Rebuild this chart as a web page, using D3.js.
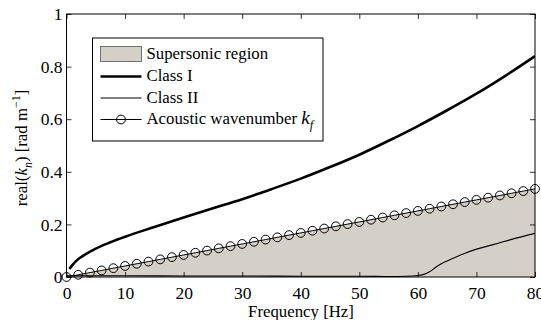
<!DOCTYPE html>
<html>
<head>
<meta charset="utf-8">
<script src="https://cdn.jsdelivr.net/npm/d3@7"></script>
<style>
  body { margin: 0; background: #fff; }
  svg { display: block; font-family: "Liberation Serif", "Times New Roman", serif; }
</style>
</head>
<body>
<svg id="chart" width="541" height="320"></svg>
<script>
// acoustic wavenumber, one marker every 2 Hz
var kf_freq = [0, 2, 4, 6, 8, 10, 12, 14, 16, 18, 20, 22, 24, 26, 28, 30, 32, 34, 36, 38, 40,
               42, 44, 46, 48, 50, 52, 54, 56, 58, 60, 62, 64, 66, 68, 70, 72, 74, 76, 78, 80];
var kf_vals = [0, 0.0084, 0.0168, 0.0251, 0.0335, 0.0419, 0.0503, 0.0586, 0.0670, 0.0754, 0.0838,
               0.0922, 0.1005, 0.1089, 0.1173, 0.1257, 0.1340, 0.1424, 0.1508, 0.1592, 0.1676,
               0.1759, 0.1843, 0.1927, 0.2011, 0.2094, 0.2178, 0.2262, 0.2346, 0.2430, 0.2513,
               0.2597, 0.2681, 0.2765, 0.2848, 0.2932, 0.3016, 0.3100, 0.3184, 0.3267, 0.3351];

// Class I branch
var c1_freq = [0.5, 1, 2, 3, 5, 7.5, 10, 15, 20, 25, 30, 35, 40, 45, 50, 55, 60, 65, 70, 75, 80];
var c1_vals = [0.030, 0.045, 0.068, 0.083, 0.108, 0.132, 0.153, 0.190, 0.226, 0.261, 0.296,
               0.334, 0.374, 0.418, 0.465, 0.518, 0.574, 0.634, 0.697, 0.766, 0.840];

// Class II branch
var c2_freq = [0, 10, 20, 30, 40, 50, 55, 58, 60, 61, 62, 63, 64, 65, 67, 70, 73, 76, 80];
var c2_vals = [0.005, 0.005, 0.004, 0.004, 0.003, 0.003, 0.002, 0.003, 0.006, 0.010, 0.020,
               0.036, 0.050, 0.061, 0.081, 0.106, 0.124, 0.143, 0.166];

var x_ticks = [0, 10, 20, 30, 40, 50, 60, 70, 80];
var y_ticks = [0, 0.2, 0.4, 0.6, 0.8, 1];
var legend_labels = ['Supersonic region', 'Class I', 'Class II', 'Acoustic wavenumber '];

var svg = d3.select('#chart');
var box_l = 66.5, box_r = 535, box_t = 14, box_b = 277;
var fill_col = '#d4d0c8';
var fs = 16.8;  // text size

var x = d3.scaleLinear().domain([0, 80]).range([box_l, box_r]);
var y = d3.scaleLinear().domain([0, 1]).range([box_b, box_t]);

var kf = kf_freq.map(function(f, i) { return [f, kf_vals[i]]; });
var c1 = c1_freq.map(function(f, i) { return [f, c1_vals[i]]; });
var c2 = c2_freq.map(function(f, i) { return [f, c2_vals[i]]; });

svg.append('clipPath').attr('id', 'clip')
    .append('rect').attr('x', box_l).attr('y', box_t)
    .attr('width', box_r - box_l).attr('height', box_b - box_t);

var plot = svg.append('g').attr('clip-path', 'url(#clip)');

// supersonic region (between 0 and k_f)
var area = d3.area()
    .x(function(d) { return x(d[0]); })
    .y0(y(0))
    .y1(function(d) { return y(d[1]); });
plot.append('path').datum(kf).attr('d', area).attr('fill', fill_col);

var line = d3.line()
    .x(function(d) { return x(d[0]); })
    .y(function(d) { return y(d[1]); });
var smooth = d3.line().curve(d3.curveMonotoneX)
    .x(function(d) { return x(d[0]); })
    .y(function(d) { return y(d[1]); });

plot.append('path').datum(c2).attr('d', smooth)
    .attr('fill', 'none').attr('stroke', '#000').attr('stroke-width', 1.1);
plot.append('path').datum(c1).attr('d', smooth)
    .attr('fill', 'none').attr('stroke', '#000').attr('stroke-width', 2.6);
plot.append('path').datum(kf).attr('d', line)
    .attr('fill', 'none').attr('stroke', '#000').attr('stroke-width', 1);

// axes box with inward ticks on all sides
var axes = svg.append('g');
axes.append('g').attr('transform', 'translate(0,' + box_b + ')')
    .call(d3.axisBottom(x).tickValues(x_ticks).tickSizeInner(-5).tickSizeOuter(0).tickPadding(9.5));
axes.append('g').attr('transform', 'translate(0,' + box_t + ')')
    .call(d3.axisTop(x).tickValues(x_ticks).tickSizeInner(-5).tickSizeOuter(0).tickFormat(''));
axes.append('g').attr('transform', 'translate(' + box_l + ',0)')
    .call(d3.axisLeft(y).tickValues(y_ticks).tickSizeInner(-5).tickSizeOuter(0).tickPadding(4)
        .tickFormat(function(d) { return d3.format('~g')(d); }));
axes.append('g').attr('transform', 'translate(' + box_r + ',0)')
    .call(d3.axisRight(y).tickValues(y_ticks).tickSizeInner(-5).tickSizeOuter(0).tickFormat(''));
axes.selectAll('.domain').remove();
axes.selectAll('.tick line').attr('stroke', '#000').attr('stroke-width', 0.8);
axes.selectAll('.tick text').attr('font-family', '"Liberation Serif", serif')
    .attr('font-size', 17.5).attr('fill', '#000');
axes.append('rect').attr('x', box_l).attr('y', box_t)
    .attr('width', box_r - box_l).attr('height', box_b - box_t)
    .attr('fill', 'none').attr('stroke', '#000').attr('stroke-width', 1);

// markers on top (not clipped)
svg.append('g').selectAll('circle').data(kf).enter().append('circle')
    .attr('cx', function(d) { return x(d[0]); })
    .attr('cy', function(d) { return y(d[1]); })
    .attr('r', 4.4)
    .attr('fill', 'none').attr('stroke', '#000').attr('stroke-width', 1);

// axis labels
svg.append('text').attr('x', 301).attr('y', 317)
    .attr('text-anchor', 'middle').attr('font-size', fs).text('Frequency [Hz]');

var ylab = svg.append('text')
    .attr('transform', 'translate(26.5,148) rotate(-90)')
    .attr('text-anchor', 'middle').attr('font-size', fs);
ylab.append('tspan').text('real(');
ylab.append('tspan').attr('font-style', 'italic').text('k');
ylab.append('tspan').attr('font-style', 'italic').attr('font-size', 12).attr('dy', 5).text('n');
ylab.append('tspan').attr('dy', -5).text(') [rad m');
ylab.append('tspan').attr('font-size', 12).attr('dy', -7).text('\u22121');
ylab.append('tspan').attr('dy', 7).text(']');

// legend
var lg = svg.append('g');
lg.append('rect').attr('x', 92.5).attr('y', 38).attr('width', 230.5).attr('height', 103)
    .attr('fill', '#fff').attr('stroke', '#000').attr('stroke-width', 1);
var rows = [54, 76.5, 98, 119.5];
var sx0 = 100.5, sx1 = 141.5;
lg.append('rect').attr('x', sx0).attr('y', rows[0] - 7.5).attr('width', sx1 - sx0).attr('height', 15)
    .attr('fill', fill_col).attr('stroke', '#555').attr('stroke-width', 0.8);
lg.append('line').attr('x1', sx0).attr('x2', sx1).attr('y1', rows[1]).attr('y2', rows[1])
    .attr('stroke', '#000').attr('stroke-width', 2.6);
lg.append('line').attr('x1', sx0).attr('x2', sx1).attr('y1', rows[2]).attr('y2', rows[2])
    .attr('stroke', '#000').attr('stroke-width', 1.1);
lg.append('line').attr('x1', sx0).attr('x2', sx1).attr('y1', rows[3]).attr('y2', rows[3])
    .attr('stroke', '#000').attr('stroke-width', 1);
lg.append('circle').attr('cx', (sx0 + sx1) / 2).attr('cy', rows[3]).attr('r', 4.4)
    .attr('fill', 'none').attr('stroke', '#000');

legend_labels.forEach(function(t, i) {
    var tx = lg.append('text').attr('x', 146.5).attr('y', rows[i] + 4.5).attr('font-size', fs).text(t);
    if (i == 3) {
        tx.append('tspan').attr('font-style', 'italic').attr('font-size', 19).text('k');
        tx.append('tspan').attr('font-style', 'italic').attr('font-size', 12.5).attr('dy', 5).text('f');
    }
});
</script>
</body>
</html>
